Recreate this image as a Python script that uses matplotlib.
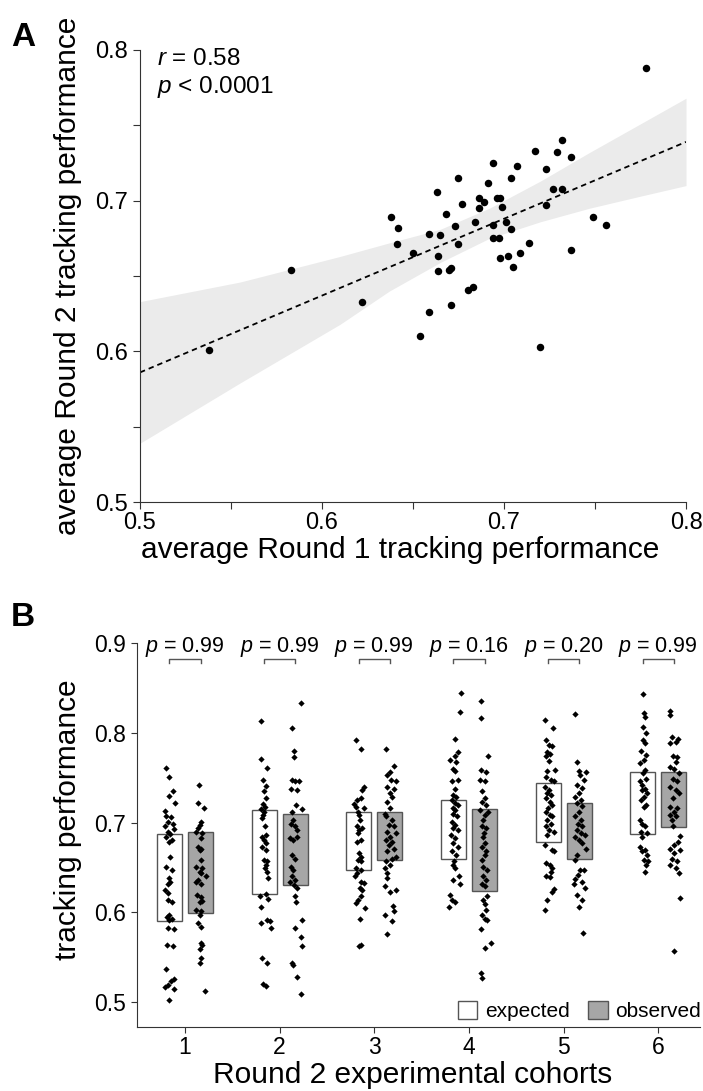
import numpy as np
import matplotlib
matplotlib.use('Agg')
import matplotlib.pyplot as plt
from matplotlib.patches import Rectangle, Patch

plt.rcParams['font.family'] = ['Liberation Sans', 'DejaVu Sans']
plt.rcParams['mathtext.fontset'] = 'custom'
plt.rcParams['mathtext.it'] = 'Liberation Sans:italic'
plt.rcParams['mathtext.rm'] = 'Liberation Sans'

# ---- panel A data: average tracking performance per participant
r1 = [0.778, 0.732, 0.717, 0.729, 0.737, 0.694, 0.707, 0.723, 0.675, 0.704,
      0.691, 0.663, 0.727, 0.732, 0.686, 0.696, 0.698, 0.689, 0.677, 0.723,
      0.686, 0.699, 0.668, 0.638, 0.749, 0.684, 0.694, 0.701, 0.756, 0.673,
      0.642, 0.704, 0.659, 0.665, 0.694, 0.697, 0.641, 0.675, 0.714, 0.737,
      0.650, 0.709, 0.664, 0.702, 0.698, 0.705, 0.583, 0.664, 0.670, 0.671,
      0.683, 0.680, 0.622, 0.671, 0.659, 0.654, 0.720, 0.538]
r2 = [0.788, 0.740, 0.733, 0.732, 0.729, 0.725, 0.723, 0.721, 0.715, 0.715,
      0.712, 0.706, 0.708, 0.708, 0.702, 0.702, 0.702, 0.699, 0.698, 0.697,
      0.695, 0.696, 0.691, 0.689, 0.689, 0.686, 0.684, 0.686, 0.684, 0.683,
      0.682, 0.681, 0.678, 0.677, 0.675, 0.675, 0.671, 0.671, 0.672, 0.667,
      0.665, 0.665, 0.663, 0.663, 0.662, 0.656, 0.654, 0.653, 0.654, 0.655,
      0.643, 0.641, 0.633, 0.631, 0.626, 0.610, 0.603, 0.601]

# regression line and its confidence band
fit_x = [0.5, 0.8]
fit_y = [0.586, 0.739]
band_x = [0.500, 0.555, 0.610, 0.637, 0.665, 0.692, 0.720, 0.747, 0.775, 0.800]
band_hi = [0.633, 0.646, 0.663, 0.672, 0.681, 0.695, 0.713, 0.732, 0.751, 0.768]
band_lo = [0.539, 0.579, 0.618, 0.640, 0.659, 0.675, 0.686, 0.695, 0.703, 0.710]

# ---- panel B data
cohorts = [1, 2, 3, 4, 5, 6]
p_vals = ['0.99', '0.99', '0.99', '0.16', '0.20', '0.99']
exp_lo = [0.590, 0.620, 0.647, 0.659, 0.678, 0.687]
exp_hi = [0.687, 0.714, 0.712, 0.725, 0.744, 0.756]
obs_lo = [0.599, 0.630, 0.658, 0.624, 0.660, 0.695]
obs_hi = [0.690, 0.710, 0.712, 0.715, 0.722, 0.757]

# (value, horizontal jitter) for every participant
g1_exp = [(0.761, -0.04), (0.751, 0.0), (0.735, 0.04), (0.730, -0.01), (0.722, 0.06), (0.713, -0.05),
          (0.707, -0.04), (0.706, 0.02), (0.701, -0.02), (0.699, 0.04), (0.696, -0.05), (0.693, 0.05),
          (0.690, -0.02), (0.687, 0.01), (0.684, -0.04), (0.681, 0.03), (0.679, 0.0), (0.662, 0.01),
          (0.651, -0.04), (0.647, 0.03), (0.638, 0.0), (0.634, 0.01), (0.632, -0.02), (0.625, -0.05),
          (0.622, -0.02), (0.614, -0.02), (0.611, 0.03), (0.597, 0.0), (0.595, -0.03), (0.593, 0.03),
          (0.591, 0.0), (0.582, -0.02), (0.581, 0.05), (0.564, -0.03), (0.562, 0.04), (0.537, -0.04),
          (0.526, 0.05), (0.523, 0.02), (0.519, -0.02), (0.517, -0.05), (0.515, 0.05), (0.502, 0.0)]
g1_obs = [(0.742, -0.02), (0.722, -0.03), (0.716, 0.04), (0.701, 0.0), (0.697, -0.01), (0.694, -0.03),
          (0.690, -0.05), (0.688, 0.02), (0.683, 0.0), (0.673, -0.03), (0.671, 0.01), (0.670, -0.01),
          (0.658, 0.0), (0.651, -0.05), (0.649, 0.02), (0.645, -0.01), (0.644, 0.0), (0.640, 0.06),
          (0.636, -0.03), (0.634, -0.05), (0.632, 0.0), (0.619, -0.04), (0.617, 0.0), (0.613, 0.02),
          (0.611, -0.01), (0.603, -0.05), (0.601, 0.0), (0.597, -0.01), (0.588, -0.03), (0.584, 0.01),
          (0.566, 0.0), (0.564, 0.02), (0.559, -0.01), (0.549, 0.0), (0.543, -0.01), (0.512, 0.05)]
g2_exp = [(0.813, -0.03), (0.771, -0.03), (0.761, 0.03), (0.748, -0.01), (0.741, 0.02), (0.735, 0.0),
          (0.728, 0.02), (0.721, -0.01), (0.718, 0.01), (0.715, -0.03), (0.712, 0.0), (0.709, -0.01),
          (0.705, -0.02), (0.696, 0.01), (0.686, 0.02), (0.684, -0.02), (0.681, 0.0), (0.677, 0.02),
          (0.673, -0.02), (0.670, 0.02), (0.658, 0.0), (0.657, 0.03), (0.653, 0.02), (0.649, 0.01),
          (0.645, 0.03), (0.638, 0.04), (0.621, 0.02), (0.618, -0.04), (0.615, 0.04), (0.606, -0.03),
          (0.592, 0.03), (0.590, 0.06), (0.588, -0.03), (0.582, 0.07), (0.549, -0.02), (0.544, 0.03),
          (0.520, -0.01), (0.518, 0.02)]
g2_obs = [(0.833, 0.06), (0.806, -0.03), (0.780, -0.01), (0.773, -0.01), (0.748, -0.03), (0.746, 0.0),
          (0.747, 0.04), (0.737, -0.04), (0.736, 0.02), (0.720, 0.01), (0.715, 0.07), (0.712, -0.03),
          (0.703, -0.02), (0.699, -0.04), (0.696, 0.0), (0.692, 0.02), (0.683, -0.05), (0.681, -0.02),
          (0.684, 0.02), (0.664, -0.03), (0.660, 0.0), (0.651, -0.04), (0.647, -0.02), (0.640, -0.03),
          (0.636, 0.0), (0.634, -0.05), (0.631, -0.01), (0.627, 0.02), (0.618, 0.0), (0.612, 0.01),
          (0.592, 0.07), (0.582, 0.0), (0.573, 0.06), (0.562, 0.07), (0.544, -0.03), (0.541, -0.02),
          (0.528, 0.02), (0.509, 0.06)]
g3_exp = [(0.792, -0.03), (0.782, 0.02), (0.740, 0.05), (0.736, 0.03), (0.728, 0.02), (0.725, -0.02),
          (0.721, -0.05), (0.717, -0.03), (0.716, 0.05), (0.712, -0.01), (0.709, 0.0), (0.703, 0.01),
          (0.696, -0.02), (0.694, 0.03), (0.692, 0.0), (0.688, -0.01), (0.681, 0.02), (0.679, -0.02),
          (0.666, 0.0), (0.662, 0.02), (0.658, -0.01), (0.657, 0.02), (0.649, -0.03), (0.647, 0.02),
          (0.644, -0.02), (0.640, -0.04), (0.634, 0.02), (0.633, 0.06), (0.627, 0.01), (0.625, 0.03),
          (0.618, 0.02), (0.614, -0.01), (0.610, -0.03), (0.605, 0.07), (0.593, 0.01), (0.564, 0.02),
          (0.562, 0.0)]
g3_obs = [(0.782, -0.04), (0.763, 0.04), (0.757, 0.0), (0.753, -0.03), (0.748, 0.01), (0.746, 0.06),
          (0.740, -0.03), (0.738, 0.04), (0.733, 0.0), (0.729, 0.02), (0.723, -0.03), (0.710, -0.05),
          (0.716, 0.0), (0.707, -0.04), (0.703, 0.02), (0.697, -0.01), (0.696, 0.04), (0.690, -0.03),
          (0.688, 0.06), (0.684, 0.0), (0.681, -0.04), (0.679, 0.02), (0.675, -0.01), (0.671, 0.04),
          (0.668, -0.03), (0.662, 0.07), (0.660, 0.02), (0.657, -0.04), (0.653, 0.0), (0.649, -0.05),
          (0.644, -0.03), (0.638, -0.03), (0.629, -0.05), (0.623, 0.0), (0.625, 0.06), (0.607, 0.03),
          (0.601, 0.04), (0.597, -0.05), (0.590, 0.02), (0.576, -0.03)]
g4_exp = [(0.845, 0.08), (0.823, 0.07), (0.793, 0.02), (0.779, 0.05), (0.774, 0.02), (0.770, -0.04),
          (0.768, 0.03), (0.760, 0.0), (0.758, 0.02), (0.748, 0.05), (0.746, -0.02), (0.737, 0.02),
          (0.731, 0.0), (0.729, 0.03), (0.725, -0.02), (0.722, 0.02), (0.720, 0.05), (0.716, -0.01),
          (0.714, 0.02), (0.710, 0.0), (0.707, 0.04), (0.701, -0.02), (0.697, 0.02), (0.694, 0.0),
          (0.692, 0.05), (0.686, -0.03), (0.683, 0.02), (0.677, 0.0), (0.673, 0.05), (0.668, -0.02),
          (0.664, 0.03), (0.657, 0.01), (0.653, -0.01), (0.649, 0.02), (0.640, 0.06), (0.636, 0.0),
          (0.632, 0.07), (0.619, -0.04), (0.614, -0.02), (0.612, 0.02), (0.606, -0.05)]
g4_obs = [(0.836, -0.04), (0.817, -0.04), (0.774, 0.04), (0.759, -0.04), (0.756, 0.02), (0.748, -0.05),
          (0.746, 0.0), (0.735, -0.03), (0.727, 0.0), (0.723, -0.03), (0.720, 0.02), (0.714, -0.05),
          (0.712, 0.04), (0.709, 0.0), (0.703, -0.02), (0.696, -0.03), (0.694, 0.02), (0.688, -0.01),
          (0.684, -0.02), (0.677, 0.01), (0.673, -0.03), (0.668, 0.02), (0.664, 0.0), (0.658, -0.03),
          (0.651, -0.02), (0.647, 0.03), (0.640, -0.02), (0.636, 0.02), (0.632, -0.03), (0.629, 0.01),
          (0.618, 0.03), (0.614, -0.02), (0.609, 0.0), (0.603, 0.02), (0.597, -0.03), (0.593, 0.0),
          (0.591, 0.03), (0.581, -0.04), (0.566, 0.07), (0.560, 0.0), (0.532, -0.04), (0.527, -0.03)]
g5_exp = [(0.814, -0.03), (0.806, 0.05), (0.792, -0.02), (0.787, 0.01), (0.785, 0.04), (0.779, -0.01),
          (0.777, 0.02), (0.774, -0.02), (0.769, 0.01), (0.759, 0.07), (0.758, -0.01), (0.751, -0.02),
          (0.748, 0.03), (0.746, 0.06), (0.740, -0.03), (0.736, 0.01), (0.733, -0.01), (0.731, 0.03),
          (0.727, -0.02), (0.723, 0.02), (0.720, 0.04), (0.716, 0.0), (0.712, -0.02), (0.709, 0.02),
          (0.707, 0.04), (0.703, -0.01), (0.699, 0.03), (0.696, -0.02), (0.692, 0.01), (0.690, 0.06),
          (0.686, -0.01), (0.675, -0.03), (0.669, 0.04), (0.668, 0.06), (0.655, -0.02), (0.653, 0.02),
          (0.649, 0.04), (0.645, 0.03), (0.640, -0.02), (0.639, 0.02), (0.626, 0.06), (0.623, 0.04),
          (0.614, -0.01), (0.603, -0.03)]
g5_obs = [(0.821, -0.04), (0.768, -0.02), (0.758, 0.0), (0.757, 0.07), (0.753, 0.01), (0.748, 0.05),
          (0.742, -0.02), (0.739, 0.03), (0.733, 0.0), (0.729, -0.04), (0.725, 0.02), (0.722, -0.02),
          (0.719, 0.03), (0.712, 0.0), (0.707, -0.04), (0.703, 0.02), (0.699, -0.01), (0.696, 0.03),
          (0.692, -0.02), (0.688, 0.02), (0.686, 0.06), (0.684, -0.04), (0.681, 0.0), (0.677, 0.03),
          (0.671, 0.07), (0.664, -0.02), (0.658, -0.04), (0.647, 0.01), (0.647, 0.05), (0.642, -0.01),
          (0.637, -0.04), (0.634, 0.03), (0.632, -0.06), (0.627, 0.06), (0.619, -0.02), (0.614, 0.03),
          (0.606, 0.0), (0.577, 0.04)]
g6_exp = [(0.844, 0.0), (0.822, 0.01), (0.818, 0.02), (0.807, 0.0), (0.800, 0.03), (0.792, 0.0),
          (0.789, 0.02), (0.780, -0.02), (0.776, 0.03), (0.770, 0.01), (0.766, -0.03), (0.759, 0.02),
          (0.755, 0.0), (0.749, 0.03), (0.746, -0.03), (0.742, -0.01), (0.738, 0.02), (0.736, -0.01),
          (0.733, 0.04), (0.729, 0.01), (0.725, -0.02), (0.720, 0.03), (0.718, 0.01), (0.703, -0.03),
          (0.699, -0.01), (0.696, 0.02), (0.690, -0.02), (0.688, 0.04), (0.684, -0.01), (0.673, -0.03),
          (0.670, 0.02), (0.668, -0.01), (0.664, 0.04), (0.658, 0.01), (0.657, 0.06), (0.653, 0.03),
          (0.645, 0.02)]
g6_obs = [(0.824, -0.04), (0.820, -0.04), (0.796, -0.02), (0.793, 0.04), (0.790, 0.02), (0.789, -0.04),
          (0.774, -0.01), (0.773, 0.03), (0.768, 0.02), (0.762, -0.04), (0.760, 0.0), (0.755, 0.05),
          (0.749, -0.01), (0.746, 0.03), (0.740, -0.04), (0.736, 0.02), (0.733, 0.05), (0.727, -0.01),
          (0.718, -0.04), (0.716, 0.03), (0.712, 0.0), (0.709, -0.04), (0.707, 0.02), (0.703, -0.02),
          (0.696, -0.01), (0.685, 0.06), (0.678, 0.04), (0.675, 0.0), (0.671, -0.04), (0.670, 0.06),
          (0.666, 0.0), (0.660, -0.02), (0.657, 0.03), (0.653, -0.04), (0.649, 0.02), (0.644, 0.05),
          (0.616, 0.06), (0.557, 0.0)]

expected = [g1_exp, g2_exp, g3_exp, g4_exp, g5_exp, g6_exp]
observed = [g1_obs, g2_obs, g3_obs, g4_obs, g5_obs, g6_obs]

W, H = 703, 1091
AXCOL = '#333333'
BOXEDGE = '#555555'
GREY = '#a6a6a6'


def fx(px):
    return px / W


def fy(py):
    return 1 - py / H


fig = plt.figure(figsize=(W / 100, H / 100), dpi=100)

# ---------------- panel A
axA = fig.add_axes([fx(140), fy(502), 546 / W, 452 / H])
axA.fill_between(band_x, band_lo, band_hi, color='#ebebeb', lw=0, zorder=1)
axA.plot(fit_x, fit_y, color='k', lw=1.3, ls=(0, (3, 2.2)), zorder=2)
axA.plot(r1, r2, 'o', color='k', ms=5.4, mew=0, zorder=3)
axA.set_xlim(0.5, 0.8)
axA.set_ylim(0.5, 0.8)
ticks = np.arange(0.5, 0.801, 0.05)
labs = ['0.5', '', '0.6', '', '0.7', '', '0.8']
axA.set_xticks(ticks)
axA.set_xticklabels(labs)
axA.set_yticks(ticks)
axA.set_yticklabels(labs)
axA.tick_params(length=5, width=0.8, color=AXCOL, labelsize=17)
axA.tick_params(axis='x', pad=2)
axA.tick_params(axis='y', pad=4)
for s in ['top', 'right']:
    axA.spines[s].set_visible(False)
for s in ['left', 'bottom']:
    axA.spines[s].set_color(AXCOL)
    axA.spines[s].set_linewidth(0.8)

fig.text(fx(157), fy(65), r'$r$ = 0.58', fontsize=17.5, va='baseline')
fig.text(fx(157), fy(93), r'$p$ < 0.0001', fontsize=17.5, va='baseline')
fig.text(fx(11), fy(46), 'A', fontsize=24, fontweight='bold', va='baseline')
fig.text(fx(68), fy(276), 'average Round 2 tracking performance', rotation=90,
         ha='center', va='center', fontsize=21.5)
fig.text(fx(400), fy(550), 'average Round 1 tracking performance',
         ha='center', va='center', fontsize=21.5)

# ---------------- panel B
axB = fig.add_axes([fx(136.7), fy(1026.7), (700 - 136.7) / W, (1026.7 - 643.3) / H])
off, bw = 0.164, 0.264
for i, c in enumerate(cohorts):
    axB.add_patch(Rectangle((c - off - bw / 2, exp_lo[i]), bw, exp_hi[i] - exp_lo[i],
                            fc='white', ec=BOXEDGE, lw=1, zorder=1))
    axB.add_patch(Rectangle((c + off - bw / 2, obs_lo[i]), bw, obs_hi[i] - obs_lo[i],
                            fc=GREY, ec=BOXEDGE, lw=1, zorder=1))
    ev, ej = zip(*expected[i])
    ov, oj = zip(*observed[i])
    axB.plot(c - off + np.array(ej), ev, 'D', color='k', ms=3.2, mew=0, zorder=3)
    axB.plot(c + off + np.array(oj), ov, 'D', color='k', ms=3.2, mew=0, zorder=3)
    # significance bracket
    axB.plot([c - off, c - off, c + off, c + off], [0.8777, 0.8829, 0.8829, 0.8777],
             color=BOXEDGE, lw=1, clip_on=False)
    axB.text(c, 0.8906, '$p$ = ' + p_vals[i], ha='center', va='baseline',
             fontsize=15.5, clip_on=False)

axB.set_xlim(0.49, 6.44)
axB.set_ylim(0.4725, 0.9)
axB.set_xticks(cohorts)
axB.set_yticks([0.5, 0.6, 0.7, 0.8, 0.9])
axB.set_yticklabels(['0.5', '0.6', '0.7', '0.8', '0.9'])
axB.tick_params(length=4.5, width=0.8, color=AXCOL, labelsize=16.5)
axB.tick_params(axis='x', pad=2)
axB.tick_params(axis='y', pad=3)
for s in ['top', 'right']:
    axB.spines[s].set_visible(False)
for s in ['left', 'bottom']:
    axB.spines[s].set_color(AXCOL)
    axB.spines[s].set_linewidth(0.8)

handles = [Patch(fc='white', ec=BOXEDGE, lw=1), Patch(fc=GREY, ec=BOXEDGE, lw=1)]
axB.legend(handles, ['expected', 'observed'], loc='center right',
           bbox_to_anchor=(fx(701), fy(1011)), bbox_transform=fig.transFigure,
           ncol=2, frameon=False, fontsize=15, handlelength=0.95, handleheight=0.95,
           handletextpad=0.35, columnspacing=0.9, borderpad=0, borderaxespad=0)

fig.text(fx(11), fy(626), 'B', fontsize=24, fontweight='bold', va='baseline')
fig.text(fx(68), fy(820), 'tracking performance', rotation=90,
         ha='center', va='center', fontsize=21.5)
fig.text(fx(413), fy(1075), 'Round 2 experimental cohorts',
         ha='center', va='center', fontsize=21.5)

fig.savefig('out.png', dpi=100)
